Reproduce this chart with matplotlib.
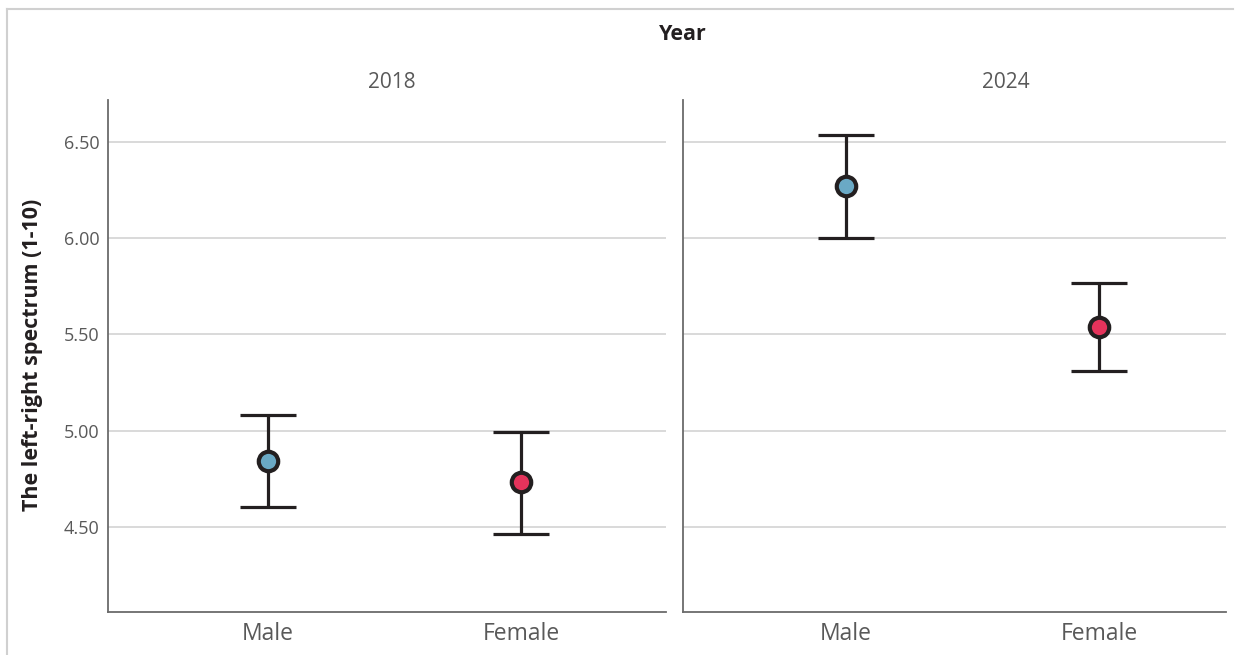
import numpy as np
import matplotlib.pyplot as plt
from matplotlib.lines import Line2D

plt.rcParams['font.family'] = ['Open Sans', 'DejaVu Sans']

# mean score and 95% interval per year and gender
years = ['2018', '2024']
genders = ['Male', 'Female']
means = {'2018': [4.84, 4.73], '2024': [6.27, 5.54]}
lower = {'2018': [4.60, 4.46], '2024': [6.00, 5.31]}
upper = {'2018': [5.08, 4.99], '2024': [6.54, 5.77]}
yticks = [4.50, 5.00, 5.50, 6.00, 6.50]

colors = ['#6aa9c5', '#e5335b']
ink = '#231f20'

W, H = 1243, 655
fig = plt.figure(figsize=(W / 100, H / 100), dpi=100)

def box(x0, x1, y0, y1):
    # pixel box -> figure fraction rect
    return [x0 / W, 1 - y1 / H, (x1 - x0) / W, (y1 - y0) / H]

panels = {
    '2018': (box(108, 666, 100, 612), (-0.632, 1.573)),
    '2024': (box(683, 1226, 100, 612), (-0.642, 1.50)),
}

for i, yr in enumerate(years):
    rect, xl = panels[yr]
    ax = fig.add_axes(rect)
    x = np.arange(len(genders))
    m = np.array(means[yr])
    lo = m - np.array(lower[yr])
    hi = np.array(upper[yr]) - m
    ax.errorbar(x, m, yerr=[lo, hi], fmt='none', ecolor=ink, elinewidth=2.3,
                capsize=20.5, capthick=2.3, zorder=3)
    for j in range(len(genders)):
        ax.plot(x[j], m[j], 'o', ms=14, mfc=colors[j], mec=ink, mew=3.0, zorder=4)
    ax.set_xlim(*xl)
    ax.set_ylim(4.056, 6.72)
    ax.set_yticks(yticks)
    ax.set_xticks(x)
    ax.set_xticklabels(genders, fontsize=16.5, color='#595959')
    ax.grid(axis='y', color='#cfcfcf', lw=1.1)
    ax.set_axisbelow(True)
    for s in ['top', 'right']:
        ax.spines[s].set_visible(False)
    for s in ['left', 'bottom']:
        ax.spines[s].set_color('#6b6b6b')
        ax.spines[s].set_linewidth(1.3)
    ax.tick_params(axis='x', length=0, pad=7)
    ax.tick_params(axis='y', length=0, pad=6)
    if i == 0:
        ax.set_yticklabels(['%.2f' % v for v in yticks], fontsize=13, color='#595959')
    else:
        ax.set_yticklabels([])

# facet headings
fig.text(683 / W, 1 - 35 / H, 'Year', ha='center', va='center',
         fontsize=15.5, fontweight='bold', color=ink)
fig.text(392 / W, 1 - 83 / H, '2018', ha='center', va='center', fontsize=15, color='#595959')
fig.text(1006 / W, 1 - 83 / H, '2024', ha='center', va='center', fontsize=15, color='#595959')
fig.text(33 / W, 1 - 355 / H, 'The left-right spectrum (1-10)', rotation=90,
         ha='center', va='center', fontsize=15.5, fontweight='bold', color=ink)

# light outer frame
fig.add_artist(Line2D([7 / W, 7 / W], [0, 1 - 9 / H], color='#d0d0d0', lw=1.5))
fig.add_artist(Line2D([7 / W, 1233 / W], [1 - 9 / H, 1 - 9 / H], color='#d0d0d0', lw=1.5))

fig.savefig('out.png', dpi=100)
